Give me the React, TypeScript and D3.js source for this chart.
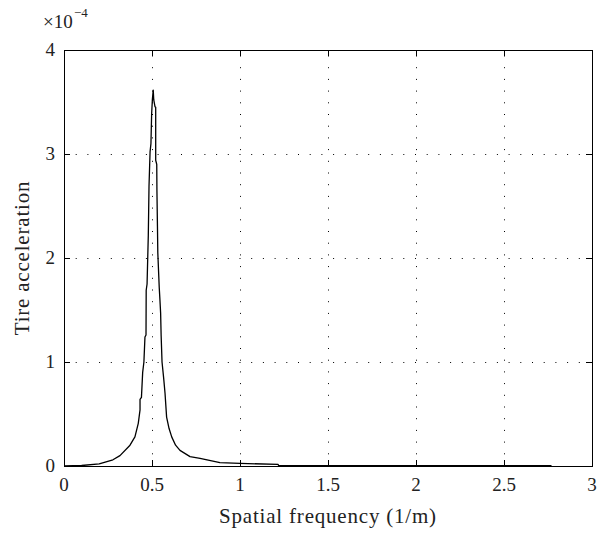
import React from "react";
import * as d3 from "d3";

// Spatial frequency (1/m)
const freq: number[] = [
  0, 0.1, 0.2, 0.278, 0.318, 0.375, 0.403, 0.422, 0.432, 0.432, 0.44, 0.447, 0.454, 0.46, 0.466,
  0.467, 0.472, 0.479, 0.481, 0.483, 0.489, 0.494, 0.498, 0.502, 0.507,
  0.51, 0.517, 0.521, 0.521, 0.527, 0.528, 0.531, 0.533, 0.541, 0.545, 0.549, 0.552, 0.557,
  0.566, 0.574, 0.583, 0.597, 0.612, 0.634, 0.659, 0.716, 0.773, 0.886, 1.0, 1.216, 1.22, 2.77,
];
// Tire acceleration (x 1e-4)
const accel: number[] = [
  0, 0.005, 0.02, 0.06, 0.1, 0.2, 0.28, 0.41, 0.54, 0.64, 0.66, 0.9, 1.0, 1.24, 1.26,
  1.69, 1.75, 2.22, 2.45, 2.69, 3.02, 3.1, 3.39, 3.52, 3.615,
  3.52, 3.455, 3.45, 2.94, 2.9, 2.65, 2.3, 2.05, 1.72, 1.6, 1.47, 1.25, 1.0,
  0.85, 0.7, 0.47, 0.36, 0.28, 0.2, 0.15, 0.09, 0.074, 0.032, 0.025, 0.016, 0.003, 0.003,
];

const xTicks: number[] = [0, 0.5, 1, 1.5, 2, 2.5, 3];
const yTicks: number[] = [0, 1, 2, 3, 4];
const xTickLabels: string[] = ["0", "0.5", "1", "1.5", "2", "2.5", "3"];
const yTickLabels: string[] = ["0", "1", "2", "3", "4"];

const W = 599;
const H = 533;
const L = 64, R = 592, T = 50, B = 466;
const FONT = "'Liberation Serif', 'Times New Roman', serif";

export default function App() {
  const x = d3.scaleLinear().domain([0, 3]).range([L, R]);
  const y = d3.scaleLinear().domain([0, 4]).range([B, T]);
  const pts: [number, number][] = freq.map((f, i) => [f, accel[i]]);
  const line = d3
    .line<[number, number]>()
    .x((d) => x(d[0]))
    .y((d) => y(d[1]));
  const tickLen = 6;
  const dash = "1,10.7";
  return (
    <svg
      width={W}
      height={H}
      style={{ position: "absolute", left: 0, top: 0, background: "#fff" }}
    >
      {/* grid */}
      <g stroke="#000" strokeWidth={1} strokeDasharray={dash} fill="none">
        {xTicks.slice(1, -1).map((t) => (
          <line key={"gx" + t} x1={Math.round(x(t)) + 0.5} x2={Math.round(x(t)) + 0.5} y1={B} y2={T} />
        ))}
        {yTicks.slice(1, -1).map((t) => (
          <line key={"gy" + t} x1={L} x2={R} y1={Math.round(y(t)) + 0.5} y2={Math.round(y(t)) + 0.5} />
        ))}
      </g>
      {/* curve */}
      <path d={line(pts) || ""} fill="none" stroke="#000" strokeWidth={1.3} strokeLinejoin="round" />
      {/* frame & ticks */}
      <g stroke="#000" strokeWidth={1} shapeRendering="crispEdges" fill="none">
        <rect x={L + 0.5} y={T + 0.5} width={R - L} height={B - T} />
        {xTicks.map((t) => (
          <g key={"tx" + t}>
            <line x1={Math.round(x(t)) + 0.5} x2={Math.round(x(t)) + 0.5} y1={B} y2={B - tickLen} />
            <line x1={Math.round(x(t)) + 0.5} x2={Math.round(x(t)) + 0.5} y1={T} y2={T + tickLen} />
          </g>
        ))}
        {yTicks.map((t) => (
          <g key={"ty" + t}>
            <line x1={L} x2={L + tickLen} y1={Math.round(y(t)) + 0.5} y2={Math.round(y(t)) + 0.5} />
            <line x1={R} x2={R - tickLen} y1={Math.round(y(t)) + 0.5} y2={Math.round(y(t)) + 0.5} />
          </g>
        ))}
      </g>
      {/* tick labels */}
      <g fontFamily={FONT} fontSize={19} fill="#222">
        {xTicks.map((t, i) => (
          <text key={"lx" + t} x={x(t)} y={491} textAnchor="middle">
            {xTickLabels[i]}
          </text>
        ))}
        {yTicks.map((t, i) => (
          <text key={"ly" + t} x={55} y={y(t)} dy="0.34em" textAnchor="end">
            {yTickLabels[i]}
          </text>
        ))}
        <text x={43} y={28} fontSize={19}>
          ×10
        </text>
        <text x={74} y={17} fontSize={13}>
          −4
        </text>
      </g>
      {/* axis labels */}
      <text
        x={(L + R) / 2}
        y={523}
        textAnchor="middle"
        fontFamily={FONT}
        fontSize={21}
        letterSpacing={0.8}
        fill="#222"
      >
        Spatial frequency (1/m)
      </text>
      <text
        transform={`translate(29,${(T + B) / 2}) rotate(-90)`}
        textAnchor="middle"
        fontFamily={FONT}
        fontSize={21}
        letterSpacing={0.8}
        fill="#222"
      >
        Tire acceleration
      </text>
    </svg>
  );
}
